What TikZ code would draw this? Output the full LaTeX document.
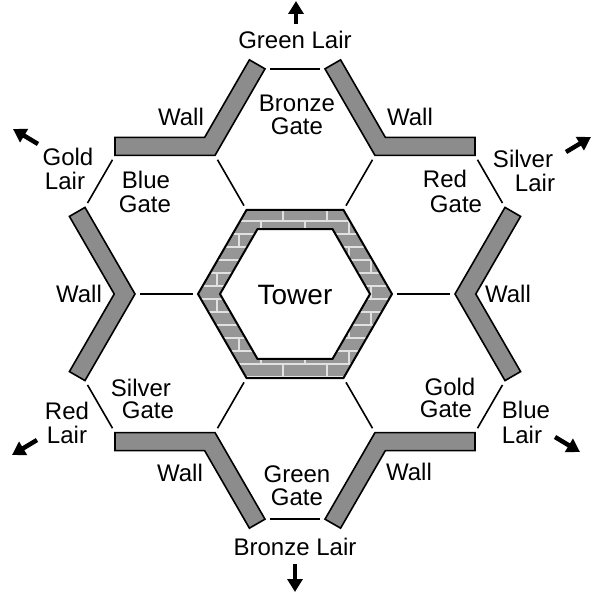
\documentclass[tikz,border=0pt]{standalone}
\usepackage{fontspec}
\setmainfont{Liberation Sans}
\usetikzlibrary{calc,arrows.meta}
\definecolor{wallgray}{RGB}{140,140,140}
\definecolor{brickgray}{RGB}{150,150,150}
\definecolor{mortar}{RGB}{225,225,225}
\begin{document}
\begin{tikzpicture}[x=1pt,y=1pt,
  wallshape/.style={draw=black, fill=wallgray, line width=1.6pt, line join=miter},
  gateline/.style={draw=black, line width=1.6pt, shorten <=5pt, shorten >=5pt},
  lbl/.style={anchor=base, inner sep=0pt, font=\fontsize{24}{24}\selectfont},
  exitarrow/.style={draw=black, line width=4.5pt, -{Triangle[length=13pt,width=15pt]}},
  mortarline/.style={draw=mortar, line width=1.2pt},
  towerline/.style={draw=black, line width=2pt, line join=miter}
]
\useasboundingbox (-295,-301) rectangle (300,294);

% walls and gate lines
\foreach \t in {0,60,...,300} {
  \coordinate (P\t) at (\t:160);
  \coordinate (T\t) at (\t:97);
  \coordinate (A\t) at ($(P\t)+(\t+60:100)$);
  \coordinate (B\t) at ($(P\t)+(\t-60:100)$);
  \coordinate (O\t) at ($(P\t)+(\t:20.78)$);
  \coordinate (AO\t) at ($(A\t)+(\t-30:18)$);
  \coordinate (BO\t) at ($(B\t)+(\t+30:18)$);
  \path[wallshape] (A\t) -- (P\t) -- (B\t) -- (BO\t) -- (O\t) -- (AO\t) -- cycle;
}
\foreach \t/\n in {0/60,60/120,120/180,180/240,240/300,300/0} {
  \draw[gateline] (A\t) -- (B\n);
  \draw[gateline] (T\t) -- (P\t);
}

% tower
\fill[brickgray] (0:97) -- (60:97) -- (120:97) -- (180:97) -- (240:97) -- (300:97) -- cycle;
\begin{scope}
  \clip (0:97) -- (60:97) -- (120:97) -- (180:97) -- (240:97) -- (300:97) -- cycle;
  \foreach \r in {-2,...,14} {
    \pgfmathsetmacro\yy{60-13*\r}
    \draw[mortarline] (-110,\yy) -- (110,\yy);
    \foreach \i in {-8,...,8} {
      \draw[mortarline] ({44*\i+22*\r+10},\yy) -- ++(0,13);
    }
  }
\end{scope}
\fill[white] (0:75) -- (60:75) -- (120:75) -- (180:75) -- (240:75) -- (300:75) -- cycle;
\draw[towerline] (0:97) -- (60:97) -- (120:97) -- (180:97) -- (240:97) -- (300:97) -- cycle;
\draw[towerline] (0:75) -- (60:75) -- (120:75) -- (180:75) -- (240:75) -- (300:75) -- cycle;
\node[lbl, font=\fontsize{28}{28}\selectfont] (tower) at (0,-10) {Tower};

% labels
\node[lbl] (greenlair) at (0,245) {Green Lair};
\node[lbl] (bronzegate1) at (2,183) {Bronze};
\node[lbl] (bronzegate2) at (2,160) {Gate};
\node[lbl] (wallTL) at (-114,169) {Wall};
\node[lbl] (wallTR) at (115,169) {Wall};
\node[lbl] (goldlair1) at (-227,129) {Gold};
\node[lbl] (goldlair2) at (-230,105) {Lair};
\node[lbl] (bluegate1) at (-149,106) {Blue};
\node[lbl] (bluegate2) at (-150,82) {Gate};
\node[lbl] (silverlair1) at (228,127) {Silver};
\node[lbl] (silverlair2) at (240,103) {Lair};
\node[lbl] (redgate1) at (150,107) {Red};
\node[lbl] (redgate2) at (161,82) {Gate};
\node[lbl] (wallL) at (-216,-8) {Wall};
\node[lbl] (wallR) at (213,-8) {Wall};
\node[lbl] (silvergate1) at (-154,-102) {Silver};
\node[lbl] (silvergate2) at (-147,-124) {Gate};
\node[lbl] (goldgate1) at (155,-101) {Gold};
\node[lbl] (goldgate2) at (151,-123) {Gate};
\node[lbl] (redlair1) at (-228,-125) {Red};
\node[lbl] (redlair2) at (-228,-149) {Lair};
\node[lbl] (bluelair1) at (231,-124) {Blue};
\node[lbl] (bluelair2) at (227,-149) {Lair};
\node[lbl] (wallBL) at (-115,-187) {Wall};
\node[lbl] (wallBR) at (114,-186) {Wall};
\node[lbl] (greengate1) at (2,-188) {Green};
\node[lbl] (greengate2) at (2,-211) {Gate};
\node[lbl] (bronzelair) at (0,-261) {Bronze Lair};

% exit arrows
\coordinate (aNt) at (1,270);     \coordinate (aNh) at (1,293);
\coordinate (aNWt) at (-257,150); \coordinate (aNWh) at (-282,165);
\coordinate (aNEt) at (271,142);  \coordinate (aNEh) at (296,157);
\coordinate (aSWt) at (-258,-146);\coordinate (aSWh) at (-283,-161);
\coordinate (aSEt) at (260,-143); \coordinate (aSEh) at (285,-158);
\coordinate (aSt) at (0,-270);    \coordinate (aSh) at (0,-298);
\draw[exitarrow] (aNt) -- (aNh);
\draw[exitarrow] (aNWt) -- (aNWh);
\draw[exitarrow] (aNEt) -- (aNEh);
\draw[exitarrow] (aSWt) -- (aSWh);
\draw[exitarrow] (aSEt) -- (aSEh);
\draw[exitarrow] (aSt) -- (aSh);
\end{tikzpicture}
\end{document}
